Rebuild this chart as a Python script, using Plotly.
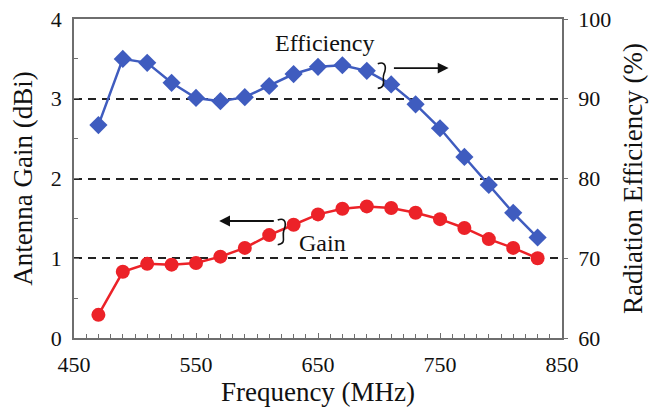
import plotly.graph_objects as go

freq = [470, 490, 510, 530, 550, 570, 590, 610, 630, 650, 670, 690, 710, 730, 750, 770, 790, 810, 830]
gain = [0.29, 0.83, 0.93, 0.92, 0.94, 1.02, 1.13, 1.29, 1.42, 1.55, 1.62, 1.65, 1.63, 1.57, 1.49, 1.38, 1.24, 1.13, 1.00]
efficiency = [86.7, 95.0, 94.5, 92.0, 90.1, 89.7, 90.2, 91.6, 93.1, 94.0, 94.2, 93.5, 91.8, 89.3, 86.3, 82.7, 79.2, 75.7, 72.6]

FONT = "Liberation Serif"
BLUE = "#3f5cbf"
RED = "#ec2228"
AX = "#6e6e6e"

fig = go.Figure()
fig.add_trace(go.Scatter(x=freq, y=efficiency, yaxis="y2", mode="lines+markers",
                         line=dict(color=BLUE, width=2.5),
                         marker=dict(symbol="diamond", size=14, color=BLUE),
                         showlegend=False))
fig.add_trace(go.Scatter(x=freq, y=gain, mode="lines+markers",
                         line=dict(color=RED, width=2.5),
                         marker=dict(symbol="circle", size=14, color=RED),
                         showlegend=False))

fig.update_layout(
    width=655, height=408,
    margin=dict(l=74, r=93, t=19, b=70),
    paper_bgcolor="white", plot_bgcolor="white",
    font=dict(family=FONT, size=22, color="#111"),
    xaxis=dict(range=[450, 850], dtick=100, tick0=450, automargin=False,
               showline=True, linecolor=AX, linewidth=1.5, mirror=True,
               showgrid=False, zeroline=False,
               ticks="inside", ticklen=5, tickcolor=AX, ticklabelstandoff=6,
               minor=dict(dtick=10, ticks="inside", ticklen=4, tickcolor=AX),
               title=dict(text="Frequency (MHz)", font=dict(size=27), standoff=2),
               tickfont=dict(size=22)),
    yaxis=dict(range=[0, 4], dtick=1, automargin=False,
               showline=True, linecolor=AX, linewidth=1.5,
               showgrid=True, gridcolor="#222", gridwidth=1.5, griddash="8px,6px",
               zeroline=False,
               ticks="inside", ticklen=5, tickcolor=AX, ticklabelstandoff=6,
               minor=dict(dtick=0.5, ticks="inside", ticklen=4, tickcolor=AX, showgrid=False),
               title=dict(text="Antenna Gain (dBi)", font=dict(size=27), standoff=10),
               tickfont=dict(size=22)),
    yaxis2=dict(range=[60, 100], dtick=10, overlaying="y", side="right", automargin=False,
                showline=True, linecolor=AX, linewidth=1.5,
                showgrid=False, zeroline=False,
                ticks="outside", ticklen=4, tickcolor=AX, ticklabelstandoff=6,
                title=dict(text="Radiation Efficiency (%)", font=dict(size=27), standoff=13),
                tickfont=dict(size=22)),
)

# labels and arrows
fig.add_annotation(x=656, y=3.70, xref="x", yref="y", text="Efficiency",
                   showarrow=False, font=dict(size=24, family=FONT, color="#111"))
fig.add_annotation(x=757, y=3.385, ax=711, ay=3.385, xref="x", yref="y", axref="x", ayref="y",
                   text="", showarrow=True, arrowhead=2, arrowsize=1.2, arrowwidth=1.8, arrowcolor="#111")
fig.add_annotation(x=654, y=1.19, xref="x", yref="y", text="Gain",
                   showarrow=False, font=dict(size=24, family=FONT, color="#111"))
fig.add_annotation(x=569, y=1.467, ax=615, ay=1.467, xref="x", yref="y", axref="x", ayref="y",
                   text="", showarrow=True, arrowhead=2, arrowsize=1.2, arrowwidth=1.8, arrowcolor="#111")

# curly hooks
fig.add_shape(type="path", xref="x", yref="y",
              path="M 699,3.44 C 706,3.48 706,3.38 704,3.31 C 702,3.24 707,3.15 699,3.13",
              line=dict(color="#111", width=1.6))
fig.add_shape(type="path", xref="x", yref="y",
              path="M 617,1.48 C 624,1.52 624,1.42 622,1.35 C 620,1.27 625,1.19 617,1.17",
              line=dict(color="#111", width=1.6))

fig.write_html("out.html")
